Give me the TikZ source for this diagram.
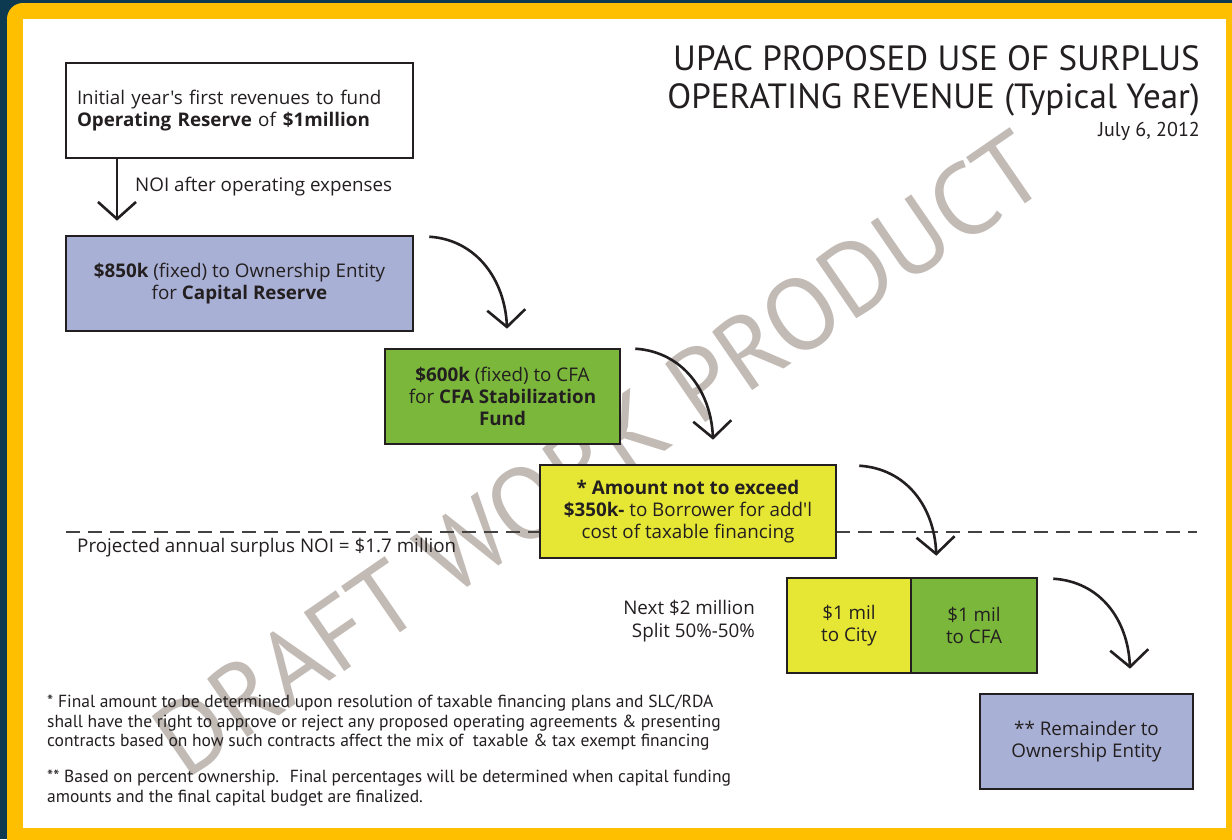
\documentclass[tikz,border=0pt]{standalone}
\usepackage{fontspec}
\setmainfont{PT Sans}
\newfontfamily\bodyfont{Open Sans}
\usetikzlibrary{arrows.meta,calc}
\definecolor{navy}{HTML}{0D3A50}
\definecolor{gold}{HTML}{FDBF00}
\definecolor{boxblue}{HTML}{A9B0D5}
\definecolor{boxgreen}{HTML}{7AB73A}
\definecolor{boxyellow}{HTML}{E6E634}
\definecolor{boxline}{HTML}{231F20}
\definecolor{txt}{HTML}{231F20}
\definecolor{wmgray}{HTML}{C2BAB5}
\begin{document}
\begin{tikzpicture}[x=1pt,y=-1pt,
  box/.style={draw=boxline, line width=2.6pt, minimum height=95pt, align=center, inner sep=0pt, text=txt, font=\bodyfont\fontsize{18.8}{22.3}\selectfont},
  arr/.style={draw=boxline, line width=2.6pt, -{Straight Barb[length=17pt,width=38pt]}},
  dashline/.style={draw=boxline!85, line width=2.8pt, dash pattern=on 14pt off 8pt},
  lbl/.style={text=txt, inner sep=0pt, font=\bodyfont\fontsize{18.8}{22.3}\selectfont},
  foot/.style={text=txt, inner sep=0pt, align=left, anchor=west, font=\fontsize{17.5}{19.5}\selectfont},
]
\path[use as bounding box] (0,0) rectangle (1232,839);
% frame
\fill[navy] (0,0) rectangle (1232,839);
\fill[gold, rounded corners=16pt] (7,3) rectangle (1250,860);
\fill[white] (23,19) rectangle (1226,828);

% watermark
\node[rotate=34.5, anchor=base east, text=wmgray, inner sep=0pt, font=\fontsize{102}{102}\selectfont] (wm) at (1052,185) {DRAFT WORK PRODUCT};

% dashed line
\coordinate (dl) at (66,532);
\coordinate (dr) at (1197,532);
\draw[dashline] (dl) -- (dr);

% boxes
\node[box, fill=white, minimum width=347pt, align=left, text width=325pt] (b1) at (239.5,110.5)
  {Initial year's first revenues to fund\\\textbf{Operating Reserve} of \textbf{\$1million}};
\node[box, fill=boxblue, minimum width=347pt] (b2) at (239.5,283.5)
  {\textbf{\$850k} (fixed) to Ownership Entity\\for \textbf{Capital Reserve}};
\node[box, fill=boxgreen, minimum width=235pt] (b3) at (502.5,396.5)
  {\textbf{\$600k} (fixed) to CFA\\for \textbf{CFA Stabilization}\\\textbf{Fund}};
\node[box, fill=boxyellow, minimum width=296pt, minimum height=93pt] (b4) at (688,511.5)
  {\textbf{* Amount not to exceed}\\\textbf{\$350k-} to Borrower for add'l\\cost of taxable financing};
\node[box, fill=boxyellow, minimum width=124pt] (b5a) at (849,625.5)
  {\$1 mil\\to City};
\node[box, fill=boxgreen, minimum width=126pt] (b5b) at (974,625.5)
  {\$1 mil\\to CFA};
\node[box, fill=boxblue, minimum width=213pt] (b6) at (1086.5,741.5)
  {** Remainder to\\Ownership Entity};

% straight arrow
\coordinate (a1s) at ([xshift=-122.5pt]b1.south);
\coordinate (a1e) at ([xshift=-122.5pt, yshift=14pt]b2.north);
\draw[arr] (a1s) -- (a1e);
\node[lbl, anchor=west] (noi) at (135,187) {NOI after operating expenses};

% curved arrows
\coordinate (s1) at ([shift={(15,2)}]b2.north east);
\coordinate (e1) at ([shift={(4.5,-19)}]b3.north);
\draw[arr] (s1) .. controls +(47,3) and +(-2,-49) .. (e1);
\coordinate (s2) at ([shift={(14,1)}]b3.north east);
\coordinate (e2) at ([shift={(25,-24)}]b4.north);
\draw[arr] (s2) .. controls +(47,3) and +(-2,-49) .. (e2);
\coordinate (s3) at ([shift={(22,2)}]b4.north east);
\coordinate (e3) at ([shift={(24,-21)}]b5a.north east);
\draw[arr] (s3) .. controls +(47,3) and +(-2,-49) .. (e3);
\coordinate (s4) at ([shift={(15,2)}]b5b.north east);
\coordinate (e4) at ([shift={(43.5,-24)}]b6.north);
\draw[arr] (s4) .. controls +(47,3) and +(-2,-49) .. (e4);

% labels
\node[lbl, anchor=west] (proj) at (77,548) {Projected annual surplus NOI = \$1.7 million};
\node[lbl, anchor=east, align=right] (next) at (755,621) {Next \$2 million\\Split 50\%-50\%};

% title
\node[text=txt, inner sep=0pt, anchor=east, align=right, font=\fontsize{35}{38}\selectfont] (title) at (1200,81)
  {UPAC PROPOSED USE OF SURPLUS\\OPERATING REVENUE (Typical Year)};
\node[text=txt, inner sep=0pt, anchor=east, font=\fontsize{20}{24}\selectfont] (date) at (1200,131) {July 6, 2012};

% footnotes
\node[foot] (f1) at (47,723)
  {* Final amount to be determined upon resolution of taxable financing plans and SLC/RDA\\
   shall have the right to approve or reject any proposed operating agreements \& presenting\\
   contracts based on how such contracts affect the mix of \ taxable \& tax exempt financing};
\node[foot] (f2) at (47,788)
  {** Based on percent ownership. \ Final percentages will be determined when capital funding\\
   amounts and the final capital budget are finalized.};
\end{tikzpicture}
\end{document}
